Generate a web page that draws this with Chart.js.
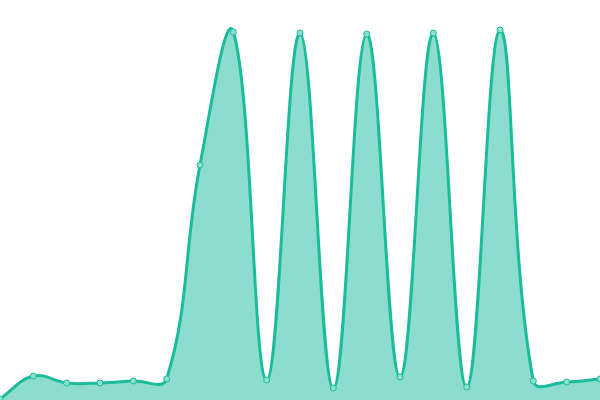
<!DOCTYPE html>
<html>
<head>
<meta charset="utf-8">
<script src="https://cdn.jsdelivr.net/npm/chart.js@4/dist/chart.umd.min.js"></script>
<style>
  html, body { margin: 0; padding: 0; background: #ffffff; overflow: hidden; }
  #frame { width: 600px; height: 400px; overflow: hidden; position: relative; }
  /* the library keeps a small margin for the end points; push it outside the window */
  #wrap { width: 610px; height: 410px; position: absolute; left: -5px; top: -5px; }
</style>
</head>
<body>
<div id="frame"><div id="wrap"><canvas id="waveChart"></canvas></div></div>
<script>
// values (scale 0..400)
const labels = ['1', '2', '3', '4', '5', '6', '7', '8', '9', '10',
                '11', '12', '13', '14', '15', '16', '17', '18', '19'];
const values = [1, 24, 17, 17, 19, 21, 235, 368, 20, 367,
                12, 366, 23, 367, 13, 370, 19, 18, 21];
const yMin = 0;
const yMax = 400;

const ctx = document.getElementById('waveChart').getContext('2d');
new Chart(ctx, {
    type: 'line',
    data: {
        labels: labels,
        datasets: [{
            data: values,
            borderColor: '#1abc9c',
            backgroundColor: 'rgba(26, 188, 156, 0.5)',
            borderWidth: 3,
            pointRadius: 3,
            pointHoverRadius: 4,
            pointBorderWidth: 1,
            pointBackgroundColor: '#8ddfce',
            pointBorderColor: '#1abc9c',
            fill: true,
            tension: 0.4
        }]
    },
    options: {
        responsive: true,
        maintainAspectRatio: false,
        animation: false,
        layout: { padding: 0 },
        plugins: { legend: { display: false }, tooltip: { enabled: false } },
        scales: {
            x: { display: false, offset: false },
            y: { display: false, min: yMin, max: yMax }
        }
    }
});
</script>
</body>
</html>
